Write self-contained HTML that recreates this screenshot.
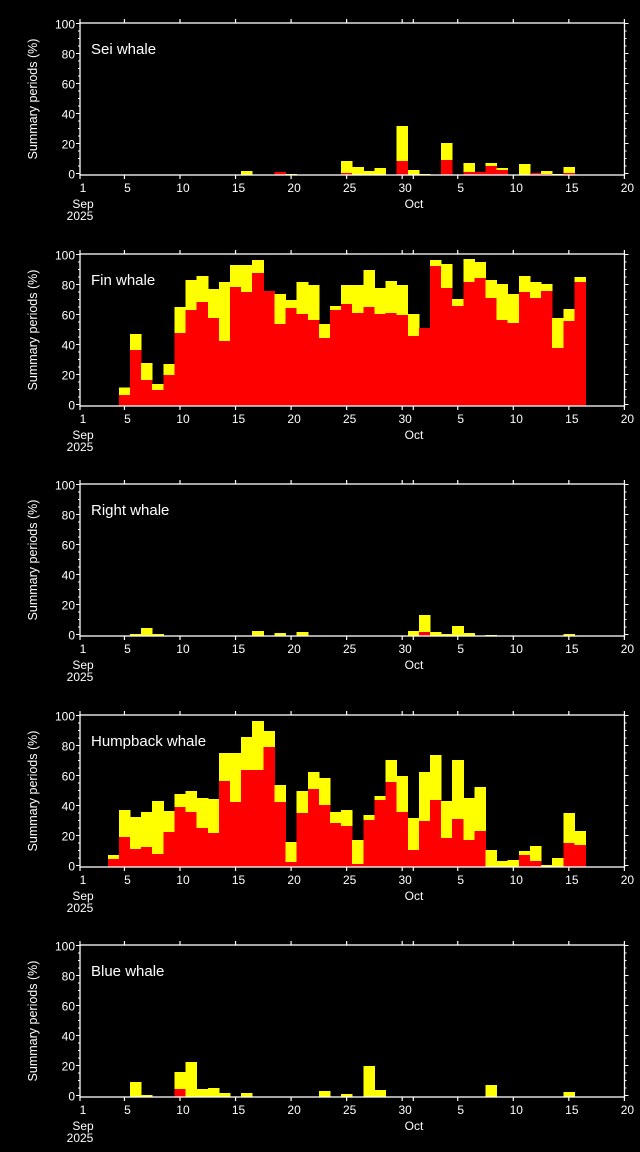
<!DOCTYPE html>
<html><head><meta charset="utf-8"><style>
html,body{margin:0;padding:0;background:#000;width:640px;height:1152px;overflow:hidden}
svg{display:block}
text{font-family:"Liberation Sans","DejaVu Sans",sans-serif;fill:#fff}
rect.b{shape-rendering:crispEdges}
</style></head><body>
<svg id="s" width="640" height="1152" viewBox="0 0 640 1152" xmlns="http://www.w3.org/2000/svg"></svg>
<script>
const NS="http://www.w3.org/2000/svg",S=document.getElementById('s');
function el(t,a,txt){const e=document.createElementNS(NS,t);for(const k in a)e.setAttribute(k,a[k]);if(txt!==undefined)e.textContent=txt;S.appendChild(e);return e;}
const X=d=>80+(d-1)*11.11;
const offs=[0,231,461,692,922];
const names=["Sei whale","Fin whale","Right whale","Humpback whale","Blue whale"];
const bases=[175,405.7,635.7,866.7,1097];
const data=[
[[16,171],[19,172,172],[20,174],[25,161,173],[26,167],[27,171],[28,168],[30,126,161],[31,170],[32,174],[34,143,160],[36,163,172],[37,172,172],[38,163,166],[39,168,170],[41,164],[42,173,173],[43,171,174],[44,174],[45,167,173]],
[[5,387.7,395],[6,334,350],[7,363,380],[8,384,390],[9,364,375],[10,307,333],[11,280,310],[12,276,302],[13,289,318],[14,282,341],[15,265,287],[16,265,292],[17,260,273],[18,291,291],[19,294,324],[20,300,308],[21,282,314],[22,285,320],[23,324,338],[24,306,310],[25,285,304],[26,285,313],[27,270,307],[28,288,314],[29,281,313],[30,285,315],[31,314,336],[32,328,328],[33,260,266],[34,264,288],[35,299,306],[36,259,282],[37,262,278],[38,280,298],[39,284,320],[40,294,323],[41,276,292],[42,282,298],[43,284,291],[44,318,348],[45,309,321],[46,277,282]],
[[6,634],[7,628],[8,634],[17,631],[19,633],[21,632],[31,631],[32,615,632],[33,632],[34,634],[35,626],[36,633],[38,635],[45,634]],
[[4,855,859],[5,810,837],[6,817,849],[7,812,847],[8,801,854],[9,811,832],[10,794,807],[11,791,812],[12,798,828],[13,799,833],[14,753,781],[15,753,802],[16,737,770],[17,721,770],[18,731,747],[19,785,802],[20,842,862],[21,791,813],[22,772,789],[23,778,805],[24,812,823],[25,810,826],[26,840,864],[27,815,820],[28,796,800],[29,760,782],[30,776,812],[31,818,850],[32,772,821],[33,755,800],[34,801,838],[35,760,819],[36,798,840],[37,787,831],[38,850],[39,861],[40,860],[41,851,855],[42,846,861],[43,865],[44,858],[45,813,843],[46,831,845]],
[[6,1082],[7,1095],[10,1072,1089],[11,1062],[12,1089],[13,1088],[14,1093],[16,1093],[23,1091],[25,1094],[27,1066],[28,1090],[38,1085],[45,1092]]
];
const xt=[[1,"1"],[5,"5"],[10,"10"],[15,"15"],[20,"20"],[25,"25"],[30,"30"],[31,""],[35,"5"],[40,"10"],[45,"15"],[50,"20"]];
for(let p=0;p<5;p++){
 const o=offs[p],B=bases[p],top=23+o,bot=175+o,zero=173.5+o;
 for(const b of data[p]){
  const x=X(b[0])-5.55;
  el('rect',{class:'b',x:x,y:b[1],width:11.6,height:B-b[1],fill:'#ffff00'});
  if(b.length>2)el('rect',{class:'b',x:x,y:b[2],width:11.6,height:B-b[2],fill:'#ff0000'});
 }
 el('rect',{x:80,y:top,width:544.5,height:bot-top,fill:'none',stroke:'#fff','stroke-width':1.3});
 for(const [d,l] of xt){const x=X(d);
  el('line',{x1:x,y1:bot,x2:x,y2:bot+4,stroke:'#fff','stroke-width':1.2});
  el('line',{x1:x,y1:top,x2:x,y2:top-4,stroke:'#fff','stroke-width':1.2});
  if(l)el('text',{x:x+3,y:bot+17,'font-size':12,'text-anchor':'middle'},l);}
 el('text',{x:83,y:bot+33,'font-size':12,'text-anchor':'middle'},"Sep");
 el('text',{x:80,y:bot+45,'font-size':12,'text-anchor':'middle'},"2025");
 el('text',{x:414,y:bot+33,'font-size':12,'text-anchor':'middle'},"Oct");
 for(let v=0;v<=100;v+=5){const y=zero-v*1.5,m=v%20==0;
  el('line',{x1:80,y1:y,x2:80-(m?4:2),y2:y,stroke:'#fff','stroke-width':1});
  el('line',{x1:624.5,y1:y,x2:624.5+(m?4:2),y2:y,stroke:'#fff','stroke-width':1});
  if(m)el('text',{x:75,y:y+5,'font-size':12,'text-anchor':'end'},String(v));}
 el('text',{x:91,y:54+o,'font-size':15},names[p]);
 el('text',{x:0,y:0,'font-size':12.5,'text-anchor':'middle',transform:`translate(37,${99+o}) rotate(-90)`},"Summary periods (%)");
}
</script>
</body></html>
